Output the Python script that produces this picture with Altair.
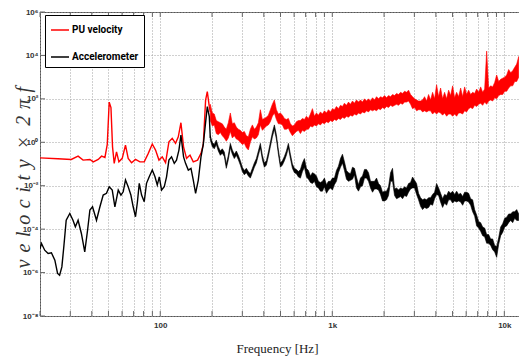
import altair as alt
import pandas as pd

# ---------------- data ----------------
series_names = ["PU velocity", "Accelerometer"]
series_colors = ["#ff0000", "#000000"]

# frequency axis ticks (Hz) and labels
x_ticks = [20, 30, 40, 50, 60, 70, 80, 90,
           100, 200, 300, 400, 500, 600, 700, 800, 900,
           1000, 2000, 3000, 4000, 5000, 6000, 7000, 8000, 9000, 10000]
x_tick_labels = {100: "100", 1000: "1k", 10000: "10k"}

# y axis: decades (log10 of velocity x 2*pi*f)
y_ticks = [-8, -6, -4, -2, 0, 2, 4, 6]
y_tick_labels = ["10⁻⁸", "10⁻⁶", "10⁻⁴", "10⁻²", "10⁰", "10²", "10⁴", "10⁶"]

# ---- low-frequency part (20 - 195 Hz): single traces, frequency (Hz) and log10 level
red_lo_f = [20.0, 25.4, 30.4, 33.3, 35.6, 39.0, 40.8, 43.6, 45.6, 47.7, 49.2, 50.5, 51.7, 52.8, 54.0,
            55.7, 57.5, 60.1, 62.8, 65.1, 68.1, 71.8, 76.2, 80.7, 85.2, 89.9, 93.9, 98.3, 102.7, 107.4,
            112.3, 117.4, 122.7, 127.3, 131.9, 136.6, 142.2, 148.9, 155.6, 164.8, 172.5, 177.9, 183.5,
            187.7, 192.8, 195.4]
red_lo_e = [-0.72, -0.76, -0.79, -0.64, -0.82, -0.79, -0.90, -0.79, -0.64, -0.70, -0.10, 1.85, 1.60,
            -0.21, -0.97, -0.44, -0.90, -0.74, -0.13, -0.74, -0.94, -0.79, -0.90, -0.90, -0.51, -0.08,
            -0.36, -0.82, -0.67, -0.94, 0.02, 0.18, -0.05, 0.25, 0.90, -0.21, -0.74, -0.59, -0.90, -0.82,
            -0.51, -0.10, 1.94, 2.33, 1.64, 1.40]

black_lo_f = [20.0, 20.4, 21.3, 22.3, 23.3, 24.4, 25.3, 26.0, 26.8, 27.5, 28.4, 29.8, 31.1, 32.1, 33.3,
              34.8, 36.4, 37.8, 39.0, 40.4, 42.6, 44.6, 46.6, 48.7, 50.5, 52.6, 54.5, 57.0, 59.1, 60.9,
              62.8, 65.1, 67.5, 69.6, 71.8, 73.7, 75.5, 77.9, 80.7, 83.2, 86.3, 89.9, 93.2, 96.1, 98.7,
              101.8, 105.5, 108.8, 112.3, 116.3, 120.6, 124.3, 128.4, 131.9, 136.6, 140.3, 145.6, 150.9,
              155.6, 160.5, 166.4, 172.5, 177.9, 183.5, 187.7, 192.8, 195.4]
black_lo_e = [-4.9, -4.66, -4.97, -5.12, -5.09, -5.43, -6.04, -6.12, -5.74, -4.82, -3.59, -3.28, -3.59,
              -3.89, -3.59, -4.20, -5.05, -4.05, -3.12, -2.97, -3.59, -2.97, -2.43, -2.35, -2.05, -2.20,
              -2.97, -2.20, -2.43, -2.28, -1.74, -2.05, -2.43, -2.97, -3.43, -2.74, -1.89, -2.43, -2.74,
              -1.89, -1.59, -1.28, -1.59, -1.97, -1.59, -2.20, -2.05, -1.59, -0.82, -0.67, -0.97, -0.82,
              -0.36, 0.33, -0.67, -0.97, -1.28, -1.20, -1.74, -2.35, -1.74, -0.67, -0.10, 0.92, 1.64,
              1.18, 0.20]

# ---- high-frequency part (195 Hz - 12 kHz): noisy bands, lower / upper log10 level
hi_f = [195.4, 200.7, 206.1, 211.7, 217.5,
        223.4, 229.5, 235.7, 242.1, 248.7,
        255.5, 262.4, 269.5, 276.9, 284.4,
        292.1, 300.0, 308.2, 316.6, 325.2,
        334.0, 343.1, 352.4, 362.0, 371.8,
        381.9, 392.3, 402.9, 413.9, 425.1,
        436.7, 448.5, 460.7, 473.2, 486.1,
        499.3, 512.9, 526.8, 541.1, 555.8,
        570.9, 586.4, 602.3, 618.7, 635.5,
        652.8, 670.5, 688.7, 707.4, 726.6,
        746.4, 766.6, 787.5, 808.9, 830.8,
        853.4, 876.5, 900.3, 924.8, 949.9,
        975.8, 1002, 1029, 1057, 1086,
        1116, 1146, 1177, 1209, 1242,
        1276, 1310, 1346, 1382, 1420,
        1459, 1498, 1539, 1581, 1624,
        1668, 1713, 1760, 1808, 1857,
        1907, 1959, 2012, 2067, 2123,
        2181, 2240, 2301, 2363, 2427,
        2493, 2561, 2630, 2702, 2775,
        2851, 2928, 3008, 3090, 3173,
        3260, 3348, 3439, 3533, 3629,
        3727, 3828, 3932, 4039, 4149,
        4262, 4377, 4496, 4618, 4744,
        4873, 5005, 5141, 5281, 5424,
        5572, 5723, 5878, 6038, 6202,
        6371, 6544, 6721, 6904, 7091,
        7284, 7482, 7685, 7894, 8108,
        8329, 8555, 8787, 9026, 9271,
        9524, 9782, 10048, 10321, 10601,
        10890, 11185, 11489, 11801, 12122]

red_hi_lo = [1.0, 0.75, 0.8, 0.4, 0.35,
             0.45, 0.3, 0.2, 0.05, 0.2,
             0.5, 0.2, 0.3, 0.15, 0.1,
             0.0, -0.1, -0.05, -0.25, -0.35,
             0.0, 0.25, 0.15, 0.2, 0.35,
             0.8, 0.55, 0.65, 0.75, 0.8,
             0.95, 1.2, 1.35, 1.05, 0.85,
             0.85, 0.8, 0.6, 0.6, 0.65,
             0.45, 0.3, 0.4, 0.5, 0.55,
             0.4, 0.55, 0.5, 0.6, 0.6,
             0.75, 0.7, 0.8, 0.75, 0.85,
             0.8, 0.9, 0.85, 0.95, 0.9,
             1.0, 0.95, 1.05, 1.0, 1.1,
             1.05, 1.15, 1.1, 1.2, 1.15,
             1.25, 1.2, 1.3, 1.25, 1.35,
             1.3, 1.4, 1.35, 1.45, 1.4,
             1.5, 1.45, 1.5, 1.45, 1.55,
             1.5, 1.6, 1.55, 1.65, 1.6,
             1.7, 1.65, 1.7, 1.75, 1.7,
             1.8, 1.75, 1.85, 1.85, 1.9,
             1.75, 1.55, 1.6, 1.45, 1.5,
             1.5, 1.4, 1.45, 1.4, 1.45,
             1.45, 1.3, 1.4, 1.3, 1.4,
             1.35, 1.25, 1.35, 1.2, 1.3,
             1.3, 1.2, 1.3, 1.2, 1.35,
             1.35, 1.3, 1.45, 1.4, 1.55,
             1.6, 1.55, 1.7, 1.65, 1.75,
             1.8, 1.7, 1.85, 1.75, 1.9,
             1.95, 1.9, 2.05, 2.0, 2.15,
             2.2, 2.2, 2.35, 2.35, 2.5,
             2.6, 2.6, 2.8, 2.8, 3.0]
red_hi_hi = [1.75, 1.35, 1.3, 1.0, 0.95,
             0.9, 0.85, 0.7, 0.6, 0.9,
             1.35, 0.85, 0.9, 0.7, 0.6,
             0.55, 0.45, 0.5, 0.3, 0.25,
             0.6, 0.8, 0.6, 0.7, 0.9,
             1.5, 1.05, 1.1, 1.15, 1.25,
             1.5, 1.75, 1.95, 1.5, 1.3,
             1.35, 1.25, 1.1, 1.05, 1.1,
             0.85, 0.75, 0.8, 0.95, 1.0,
             1.0, 1.1, 1.05, 1.2, 1.1,
             1.3, 1.55, 1.2, 1.35, 1.25,
             1.4, 1.3, 1.45, 1.35, 1.5,
             1.4, 1.55, 1.5, 1.65, 1.55,
             1.7, 1.65, 1.8, 1.7, 1.85,
             1.75, 1.9, 1.8, 1.95, 1.85,
             1.95, 1.85, 2.0, 1.9, 2.0,
             1.9, 2.05, 1.95, 2.1, 2.0,
             2.1, 2.05, 2.15, 2.05, 2.15,
             2.1, 2.2, 2.15, 2.25, 2.2,
             2.3, 2.25, 2.35, 2.3, 2.4,
             2.2, 2.1, 2.0, 1.95, 1.9,
             1.9, 1.95, 2.1, 1.9, 2.2,
             1.95, 2.3, 2.0, 2.65, 2.1,
             2.5, 2.0, 2.3, 2.0, 2.4,
             2.15, 2.6, 2.05, 2.3, 2.1,
             2.5, 2.1, 2.55, 2.2, 2.4,
             2.2, 2.3, 2.25, 2.45, 2.3,
             2.55, 2.3, 2.45, 4.2, 2.5,
             2.6, 2.55, 2.75, 3.1, 2.8,
             2.9, 2.95, 3.0, 3.1, 3.35,
             3.2, 3.3, 3.45, 3.6, 3.95]

black_hi_lo = [0.1, -0.2, -0.3, -0.1, -0.4,
               -0.6, -0.5, -0.65, -1.2, -0.8,
               -0.25, -0.55, -0.75, -0.6, -0.8,
               -1.05, -1.35, -1.5, -1.4, -1.55,
               -1.65, -1.4, -1.15, -0.95, -0.6,
               -0.25, -0.8, -1.15, -1.05, -0.65,
               -0.2, 0.25, 0.6, 0.15, -0.55,
               -1.15, -1.05, -0.85, -0.6, -0.25,
               -0.75, -1.2, -1.4, -1.45, -1.6,
               -1.65, -1.35, -1.15, -1.6, -1.7,
               -1.85, -1.9, -1.8, -2.05, -2.1,
               -2.25, -2.25, -2.05, -2.35, -2.2,
               -2.1, -2.2, -1.95, -1.8, -1.4,
               -1.15, -0.95, -1.3, -1.7, -1.8,
               -1.75, -1.7, -1.5, -2.1, -2.25,
               -2.05, -2.0, -1.65, -1.65, -1.8,
               -2.1, -2.3, -2.15, -2.15, -2.2,
               -2.4, -2.7, -2.7, -2.65, -2.45,
               -1.8, -1.8, -2.45, -2.6, -2.55,
               -2.5, -2.6, -2.45, -2.5, -2.3,
               -2.15, -2.1, -2.1, -2.4, -2.65,
               -2.95, -3.1, -3.0, -3.05, -3.0,
               -2.85, -2.9, -2.6, -2.4, -2.45,
               -2.75, -3.0, -2.8, -2.9, -2.65,
               -2.65, -2.8, -2.7, -2.75, -2.7,
               -2.75, -2.9, -2.7, -2.7, -2.75,
               -2.9, -3.2, -3.4, -3.85, -3.95,
               -4.1, -4.3, -4.35, -4.65, -4.65,
               -4.75, -4.95, -5.05, -5.3, -4.7,
               -4.3, -4.15, -3.9, -3.85, -3.7,
               -3.6, -3.7, -3.5, -3.6, -3.6]
black_hi_hi = [0.3, 0.0, -0.1, 0.1, -0.2,
               -0.4, -0.3, -0.45, -1.0, -0.6,
               -0.05, -0.35, -0.55, -0.4, -0.6,
               -0.85, -1.15, -1.3, -1.2, -1.35,
               -1.45, -1.2, -0.95, -0.75, -0.4,
               -0.05, -0.6, -0.95, -0.85, -0.45,
               0.0, 0.45, 0.8, 0.35, -0.35,
               -0.95, -0.85, -0.65, -0.4, -0.05,
               -0.55, -1.0, -1.2, -1.25, -1.35,
               -1.25, -0.95, -0.75, -1.2, -1.3,
               -1.55, -1.4, -1.45, -1.55, -1.8,
               -1.85, -1.8, -1.65, -1.95, -1.8,
               -1.8, -1.65, -1.65, -1.3, -1.1,
               -0.75, -0.55, -0.9, -1.3, -1.4,
               -1.45, -1.15, -1.2, -1.6, -1.95,
               -1.65, -1.55, -1.25, -1.25, -1.4,
               -1.8, -1.8, -1.8, -1.65, -1.9,
               -2.0, -2.3, -2.25, -2.25, -2.05,
               -1.4, -1.2, -2.15, -2.1, -2.2,
               -2.1, -2.15, -2.05, -2.1, -1.9,
               -1.85, -1.6, -1.75, -1.9, -2.35,
               -2.55, -2.65, -2.6, -2.65, -2.55,
               -2.55, -2.4, -2.3, -1.9, -2.1,
               -2.35, -2.6, -2.4, -2.45, -2.25,
               -2.35, -2.25, -2.4, -2.25, -2.4,
               -2.35, -2.5, -2.3, -2.3, -2.35,
               -2.6, -2.65, -3.1, -3.35, -3.65,
               -3.7, -3.9, -3.95, -4.25, -4.25,
               -4.45, -4.45, -4.75, -4.8, -4.4,
               -3.9, -3.75, -3.5, -3.45, -3.3,
               -3.3, -3.2, -3.2, -3.1, -3.3]

# ---------------- tables ----------------
red_df = pd.DataFrame({"f": red_lo_f, "e": red_lo_e, "series": series_names[0]})
black_df = pd.DataFrame({"f": black_lo_f, "e": black_lo_e, "series": series_names[1]})
red_band = pd.DataFrame({"f": hi_f, "lo": red_hi_lo, "hi": red_hi_hi})
black_band = pd.DataFrame({"f": hi_f, "lo": black_hi_lo, "hi": black_hi_hi})
xt_df = pd.DataFrame({"f": x_ticks})
yt_df = pd.DataFrame({"e": y_ticks})

# ---------------- scales & axes ----------------
xs = alt.Scale(type="log", domain=[20, 12170], nice=False)
ys = alt.Scale(domain=[-8, 6], nice=False, zero=False)

x_label_expr = " : ".join(
    f"datum.value == {k} ? '{v}'" for k, v in x_tick_labels.items()
) + " : ''"
y_label_expr = " : ".join(
    f"datum.value == {k} ? '{v}'" for k, v in zip(y_ticks[1:], y_tick_labels[1:])
) + f" : '{y_tick_labels[0]}'"

SP = "\u2004"   # three-per-em space (math-italic letter spacing)
GAP = "\u2002"
y_title = SP.join("velocity") + GAP + "×" + GAP + SP.join("2πf")

x_axis = alt.Axis(
    values=x_ticks, labelExpr=x_label_expr, title="Frequency [Hz]",
    grid=True, gridColor="#a0a0a0", gridDash=[1, 2], gridWidth=1,
    domain=False, ticks=False, labelFont="Liberation Sans", labelFontSize=8,
    labelFontWeight="bold", labelColor="#333", labelPadding=5, labelFlush=False,
    labelOverlap=False,
    titleFont="Liberation Serif", titleFontSize=13, titleFontWeight="normal",
    titleColor="#222", titleX=237, titleY=32, titleBaseline="middle",
)
y_axis = alt.Axis(
    values=y_ticks, labelExpr=y_label_expr, title=y_title,
    grid=True, gridColor="#a0a0a0", gridDash=[1, 2], gridWidth=1,
    domain=False, ticks=False, labelFont="Liberation Sans", labelFontSize=8,
    labelFontWeight="bold", labelColor="#333", labelPadding=2, labelFlush=False,
    titleFont="Liberation Serif", titleFontSize=20, titleFontStyle="italic",
    titleFontWeight="normal", titleColor="#333", titleX=-17, titleY=165,
    titleAngle=270, titleAlign="center", titleBaseline="middle",
)

color = alt.Color(
    "series:N",
    scale=alt.Scale(domain=series_names, range=series_colors),
    legend=alt.Legend(
        title=None, orient="none", legendX=5, legendY=3,
        fillColor="white", strokeColor="#000", padding=5,
        symbolType="stroke", symbolSize=324, symbolStrokeWidth=1.5,
        labelFont="Roboto", labelFontSize=10,
        labelFontWeight="bold", labelColor="#000", rowPadding=12, labelOffset=2,
    ),
)

bottom_ticks = alt.Chart(xt_df).mark_rule(color="#666", strokeWidth=1).encode(
    x=alt.X("f:Q", scale=xs, axis=x_axis), y=alt.value(304), y2=alt.value(299)
)
top_ticks = alt.Chart(xt_df).mark_rule(color="#666", strokeWidth=1).encode(
    x=alt.X("f:Q", scale=xs, axis=x_axis), y=alt.value(0), y2=alt.value(5)
)
left_ticks = alt.Chart(yt_df).mark_rule(color="#666", strokeWidth=1).encode(
    y=alt.Y("e:Q", scale=ys, axis=y_axis), x=alt.value(0), x2=alt.value(5)
)

red_line = alt.Chart(red_df).mark_line(strokeWidth=1.4, clip=True).encode(
    x=alt.X("f:Q", scale=xs, axis=x_axis),
    y=alt.Y("e:Q", scale=ys, axis=y_axis),
    color=color,
)
red_area = alt.Chart(red_band).mark_area(color="#ff0000", clip=True, stroke="#ff0000",
                                         strokeWidth=0.6).encode(
    x=alt.X("f:Q", scale=xs, axis=x_axis),
    y=alt.Y("lo:Q", scale=ys, axis=y_axis), y2="hi:Q",
)
black_line = alt.Chart(black_df).mark_line(strokeWidth=1.4, clip=True).encode(
    x=alt.X("f:Q", scale=xs, axis=x_axis),
    y=alt.Y("e:Q", scale=ys, axis=y_axis),
    color=color,
)
black_area = alt.Chart(black_band).mark_area(color="#000000", clip=True, stroke="#000000",
                                             strokeWidth=0.6).encode(
    x=alt.X("f:Q", scale=xs, axis=x_axis),
    y=alt.Y("lo:Q", scale=ys, axis=y_axis), y2="hi:Q",
)

chart = alt.layer(bottom_ticks, top_ticks, left_ticks, red_line, red_area,
                  black_line, black_area).properties(
    width=479, height=304,
    autosize=alt.AutoSizeParams(type="none"),
    padding={"left": 40, "top": 12, "right": 0, "bottom": 45},
    background="white",
).configure_view(stroke="#555", strokeWidth=1)

chart.save("out.html", embed_options={"renderer": "svg", "actions": False})
